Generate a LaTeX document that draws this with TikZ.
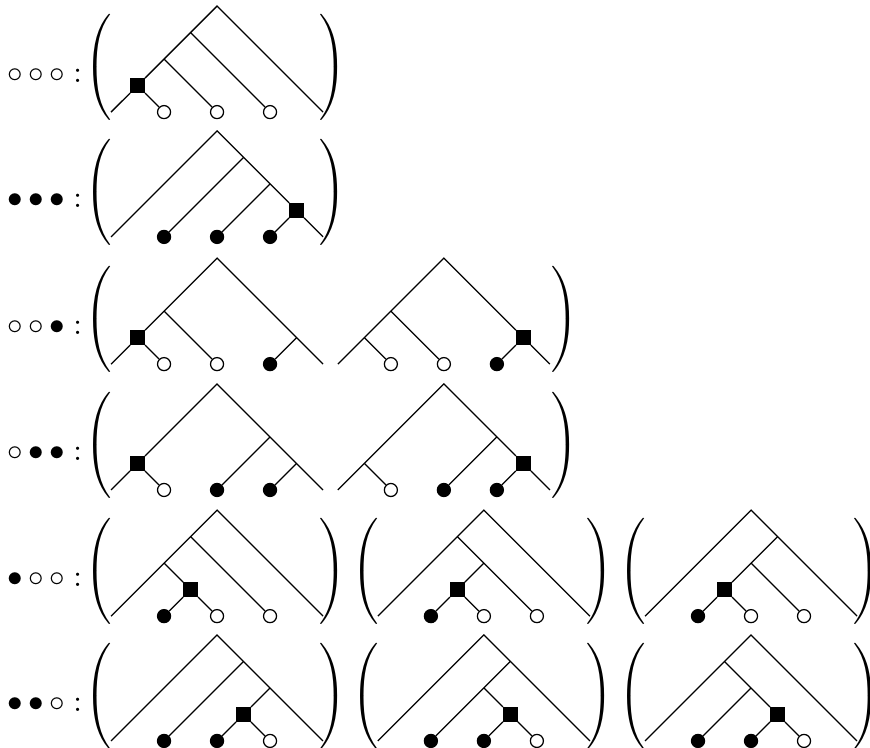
\documentclass[tikz,border=0pt]{standalone}
\usepackage{amsmath}
\usepackage{graphicx}
\usetikzlibrary{positioning}

\tikzset{
    every picture/.style={x=0.3cm, y=0.3cm, line width=0.4pt},
    % leaves and the marked vertex
    wleaf/.style={circle,draw,fill=white,inner sep=0pt,minimum size=4.2pt},
    bleaf/.style={circle,draw,fill=black,inner sep=0pt,minimum size=4.2pt},
    vertex/.style={rectangle,draw,fill=black,inner sep=0pt,minimum size=4.4pt},
    % row labels and brackets
    tag/.style={anchor=base west,inner sep=0pt},
    paren/.style={inner sep=0pt}
}
\newcommand{\Lpar}{\scalebox{1}[0.95]{$\nulldelimiterspace=0pt\left(\vcenter{\hbox{\rule{0pt}{34pt}}}\right.$}}
\newcommand{\Rpar}{\scalebox{1}[0.95]{$\nulldelimiterspace=0pt\left.\vcenter{\hbox{\rule{0pt}{34pt}}}\right)$}}
\newcommand{\treespine}{\coordinate (l) at (0,0); \coordinate (top) at (4,4); \coordinate (r) at (8,0);}
\newcommand{\W}{{\circ}}
\newcommand{\B}{{\bullet}}

\begin{document}
\begin{tikzpicture}
    \useasboundingbox (0,0) rectangle (32.83,28.19);

    % Row 1
    \node[tag] (lab1) at (0.27,25.06) {$\W\,\W\,\W:$};
    \node[paren] (lp1) at (3.70,25.64) {\Lpar};
    \node[paren] (rp1) at (12.58,25.64) {\Rpar};
    \begin{scope}[shift={(4.19,23.96)}, name prefix=t1-]
        \treespine
        \node[vertex] (s) at (1,1) {};
        \coordinate (p) at (2,2);
        \coordinate (q) at (3,3);
        \node[wleaf] (a) at (2,0) {};
        \node[wleaf] (b) at (4,0) {};
        \node[wleaf] (c) at (6,0) {};
        \draw (l) -- (s) -- (p) -- (q) -- (top) -- (r);
        \draw (s) -- (a) (p) -- (b) (q) -- (c);
    \end{scope}

    % Row 2
    \node[tag] (lab2) at (0.27,20.35) {$\B\,\B\,\B:$};
    \node[paren] (lp2) at (3.70,20.93) {\Lpar};
    \node[paren] (rp2) at (12.58,20.93) {\Rpar};
    \begin{scope}[shift={(4.19,19.25)}, name prefix=t2-]
        \treespine
        \coordinate (q) at (5,3);
        \coordinate (p) at (6,2);
        \node[vertex] (s) at (7,1) {};
        \node[bleaf] (a) at (2,0) {};
        \node[bleaf] (b) at (4,0) {};
        \node[bleaf] (c) at (6,0) {};
        \draw (l) -- (top) -- (q) -- (p) -- (s) -- (r);
        \draw (q) -- (a) (p) -- (b) (s) -- (c);
    \end{scope}

    % Row 3
    \node[tag] (lab3) at (0.27,15.55) {$\W\,\W\,\B:$};
    \node[paren] (lp3) at (3.70,16.13) {\Lpar};
    \node[paren] (rp3) at (21.32,16.13) {\Rpar};
    \begin{scope}[shift={(4.19,14.45)}, name prefix=t3a-]
        \treespine
        \node[vertex] (s) at (1,1) {};
        \coordinate (p) at (2,2);
        \coordinate (q) at (7,1);
        \node[wleaf] (a) at (2,0) {};
        \node[wleaf] (b) at (4,0) {};
        \node[bleaf] (c) at (6,0) {};
        \draw (l) -- (s) -- (p) -- (top) -- (q) -- (r);
        \draw (s) -- (a) (p) -- (b) (q) -- (c);
    \end{scope}
    \begin{scope}[shift={(12.75,14.45)}, name prefix=t3b-]
        \treespine
        \coordinate (q) at (1,1);
        \coordinate (p) at (2,2);
        \node[vertex] (s) at (7,1) {};
        \node[wleaf] (a) at (2,0) {};
        \node[wleaf] (b) at (4,0) {};
        \node[bleaf] (c) at (6,0) {};
        \draw (l) -- (q) -- (p) -- (top) -- (s) -- (r);
        \draw (q) -- (a) (p) -- (b) (s) -- (c);
    \end{scope}

    % Row 4
    \node[tag] (lab4) at (0.27,10.80) {$\W\,\B\,\B:$};
    \node[paren] (lp4) at (3.70,11.38) {\Lpar};
    \node[paren] (rp4) at (21.32,11.38) {\Rpar};
    \begin{scope}[shift={(4.19,9.70)}, name prefix=t4a-]
        \treespine
        \node[vertex] (s) at (1,1) {};
        \coordinate (p) at (6,2);
        \coordinate (q) at (7,1);
        \node[wleaf] (a) at (2,0) {};
        \node[bleaf] (b) at (4,0) {};
        \node[bleaf] (c) at (6,0) {};
        \draw (l) -- (s) -- (top) -- (p) -- (q) -- (r);
        \draw (s) -- (a) (p) -- (b) (q) -- (c);
    \end{scope}
    \begin{scope}[shift={(12.75,9.70)}, name prefix=t4b-]
        \treespine
        \coordinate (q) at (1,1);
        \coordinate (p) at (6,2);
        \node[vertex] (s) at (7,1) {};
        \node[wleaf] (a) at (2,0) {};
        \node[bleaf] (b) at (4,0) {};
        \node[bleaf] (c) at (6,0) {};
        \draw (l) -- (q) -- (top) -- (p) -- (s) -- (r);
        \draw (q) -- (a) (p) -- (b) (s) -- (c);
    \end{scope}

    % Row 5
    \node[tag] (lab5) at (0.27,6.04) {$\B\,\W\,\W:$};
    \foreach \x/\n in {4.19/a, 14.26/b, 24.34/c} {
        \node[paren] (lp5\n) at (\x-0.49,6.62) {\Lpar};
        \node[paren] (rp5\n) at (\x+8.39,6.62) {\Rpar};
    }
    \begin{scope}[shift={(4.19,4.94)}, name prefix=t5a-]
        \treespine
        \coordinate (p) at (2,2);
        \coordinate (q) at (3,3);
        \node[vertex] (s) at (3,1) {};
        \node[bleaf] (a) at (2,0) {};
        \node[wleaf] (b) at (4,0) {};
        \node[wleaf] (c) at (6,0) {};
        \draw (l) -- (p) -- (q) -- (top) -- (r);
        \draw (q) -- (c) (p) -- (s) -- (a) (s) -- (b);
    \end{scope}
    \begin{scope}[shift={(14.26,4.94)}, name prefix=t5b-]
        \treespine
        \coordinate (q) at (3,3);
        \coordinate (p) at (4,2);
        \node[vertex] (s) at (3,1) {};
        \node[bleaf] (a) at (2,0) {};
        \node[wleaf] (b) at (4,0) {};
        \node[wleaf] (c) at (6,0) {};
        \draw (l) -- (q) -- (top) -- (r);
        \draw (q) -- (p) -- (c) (p) -- (s) -- (a) (s) -- (b);
    \end{scope}
    \begin{scope}[shift={(24.34,4.94)}, name prefix=t5c-]
        \treespine
        \coordinate (q) at (5,3);
        \coordinate (p) at (4,2);
        \node[vertex] (s) at (3,1) {};
        \node[bleaf] (a) at (2,0) {};
        \node[wleaf] (b) at (4,0) {};
        \node[wleaf] (c) at (6,0) {};
        \draw (l) -- (top) -- (q) -- (r);
        \draw (q) -- (p) -- (s) -- (a) (p) -- (c) (s) -- (b);
    \end{scope}

    % Row 6
    \node[tag] (lab6) at (0.27,1.33) {$\B\,\B\,\W:$};
    \foreach \x/\n in {4.19/a, 14.26/b, 24.34/c} {
        \node[paren] (lp6\n) at (\x-0.49,1.91) {\Lpar};
        \node[paren] (rp6\n) at (\x+8.39,1.91) {\Rpar};
    }
    \begin{scope}[shift={(4.19,0.23)}, name prefix=t6a-]
        \treespine
        \coordinate (q) at (5,3);
        \coordinate (p) at (6,2);
        \node[vertex] (s) at (5,1) {};
        \node[bleaf] (a) at (2,0) {};
        \node[bleaf] (b) at (4,0) {};
        \node[wleaf] (c) at (6,0) {};
        \draw (l) -- (top) -- (q) -- (p) -- (r);
        \draw (q) -- (a) (p) -- (s) -- (b) (s) -- (c);
    \end{scope}
    \begin{scope}[shift={(14.26,0.23)}, name prefix=t6b-]
        \treespine
        \coordinate (q) at (5,3);
        \coordinate (p) at (4,2);
        \node[vertex] (s) at (5,1) {};
        \node[bleaf] (a) at (2,0) {};
        \node[bleaf] (b) at (4,0) {};
        \node[wleaf] (c) at (6,0) {};
        \draw (l) -- (top) -- (q) -- (r);
        \draw (q) -- (p) -- (a) (p) -- (s) -- (b) (s) -- (c);
    \end{scope}
    \begin{scope}[shift={(24.34,0.23)}, name prefix=t6c-]
        \treespine
        \coordinate (q) at (3,3);
        \coordinate (p) at (4,2);
        \node[vertex] (s) at (5,1) {};
        \node[bleaf] (a) at (2,0) {};
        \node[bleaf] (b) at (4,0) {};
        \node[wleaf] (c) at (6,0) {};
        \draw (l) -- (q) -- (top) -- (r);
        \draw (q) -- (p) -- (s) -- (b) (p) -- (a) (s) -- (c);
    \end{scope}
\end{tikzpicture}
\end{document}
